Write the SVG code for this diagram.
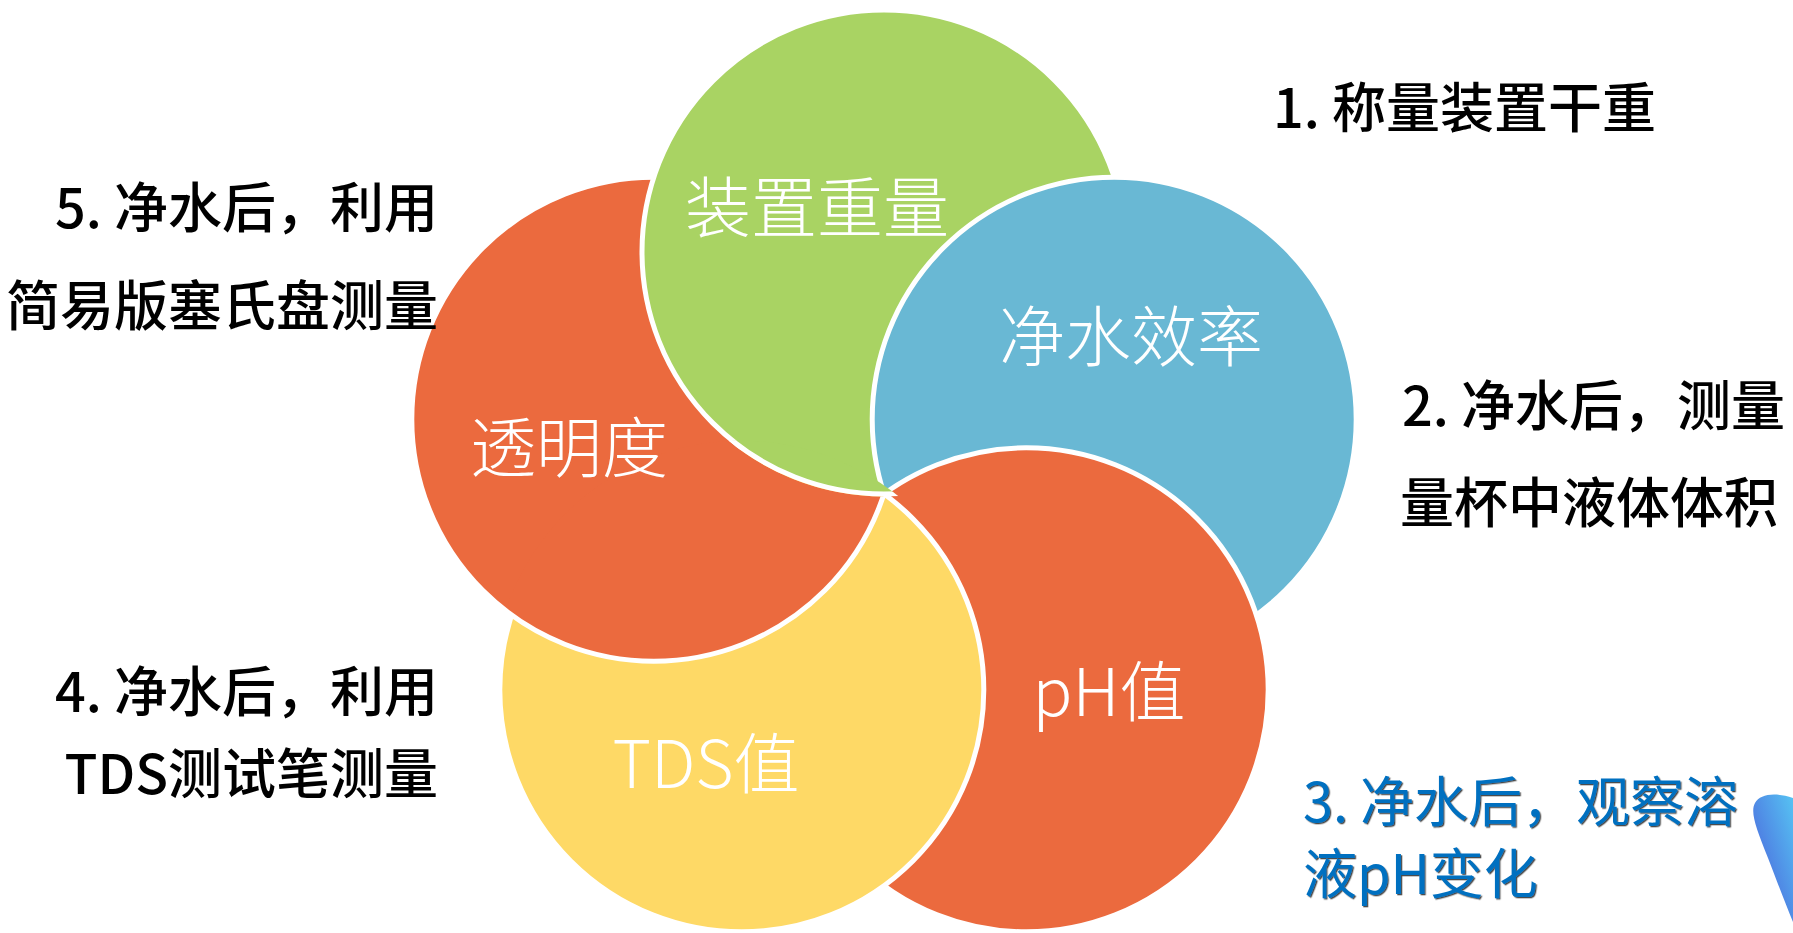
<svg xmlns="http://www.w3.org/2000/svg" xmlns:xlink="http://www.w3.org/1999/xlink" width="1793" height="933" viewBox="0 0 1793 933">
  <style>
    .circ { stroke: #ffffff; stroke-width: 5; }
    .lbl { font-family: "Noto Sans CJK SC", "Noto Sans", sans-serif; font-size: 66px; fill: #ffffff; font-weight: 300; text-anchor: middle; }
    .side { font-family: "Noto Sans CJK SC", "Noto Sans", sans-serif; font-size: 54px; fill: #000000; font-weight: 500; }
    .blue { fill: #0070C0; font-weight: 400; }
  </style>
  <defs>
    <circle id="cA" cx="653.8" cy="419.2" r="242" fill="#EB6A3E" class="circ"/>
    <circle id="cB" cx="884" cy="252" r="242" fill="#A9D363" class="circ"/>
    <clipPath id="clipE">
      <circle cx="741.8" cy="689.8" r="249"/>
    </clipPath>
    <mask id="maskA" maskUnits="userSpaceOnUse" x="0" y="0" width="1793" height="933">
      <circle cx="741.8" cy="689.8" r="249" fill="#ffffff"/>
      <circle cx="884" cy="252" r="244.5" fill="#000000"/>
    </mask>
    <filter id="shadow" x="-5%" y="-20%" width="110%" height="140%">
      <feDropShadow dx="1.3" dy="1.3" stdDeviation="0.5" flood-color="#000000" flood-opacity="0.7"/>
    </filter>
    <linearGradient id="deco" x1="1" y1="0" x2="0" y2="1">
      <stop offset="0" stop-color="#56C3F3"/>
      <stop offset="1" stop-color="#4A55D8"/>
    </linearGradient>
  </defs>

  <rect x="0" y="0" width="1793" height="933" fill="#ffffff"/>

  <g id="circles">
    <use id="circle-clarity" xlink:href="#cA" href="#cA"/>
    <use id="circle-weight" xlink:href="#cB" href="#cB"/>
    <circle id="circle-efficiency" cx="1114.2" cy="419.2" r="242" fill="#69B8D4" class="circ"/>
    <circle id="circle-ph" cx="1026.2" cy="689.8" r="242" fill="#EB6A3E" class="circ"/>
    <circle id="circle-tds" cx="741.8" cy="689.8" r="242" fill="#FED966" class="circ"/>
    <use xlink:href="#cA" href="#cA" mask="url(#maskA)"/>
    <use xlink:href="#cB" href="#cB" clip-path="url(#clipE)"/>
  </g>

  <g id="node-weight"><text class="lbl" x="817" y="232">装置重量</text></g>
  <g id="node-efficiency"><text class="lbl" x="1131" y="361">净水效率</text></g>
  <g id="node-clarity"><text class="lbl" x="569" y="472">透明度</text></g>
  <g id="node-ph"><text class="lbl" x="1109" y="716">pH值</text></g>
  <g id="node-tds"><text class="lbl" x="706" y="788">TDS值</text></g>

  <g id="note-1"><text class="side" x="1273" y="128">1. 称量装置干重</text></g>
  <g id="note-2">
    <text class="side" x="1402" y="426">2. 净水后，测量</text>
    <text class="side" x="1400" y="523">量杯中液体体积</text>
  </g>
  <g id="note-3" filter="url(#shadow)">
    <text class="side blue" x="1303" y="822">3. 净水后，观察溶</text>
    <text class="side blue" x="1303" y="894">液pH变化</text>
  </g>
  <g id="note-4">
    <text class="side" x="438" y="712" text-anchor="end">4. 净水后，利用</text>
    <text class="side" x="438" y="794" text-anchor="end">TDS测试笔测量</text>
  </g>
  <g id="note-5">
    <text class="side" x="438" y="228" text-anchor="end">5. 净水后，利用</text>
    <text class="side" x="438" y="326" text-anchor="end">简易版塞氏盘测量</text>
  </g>

  <g id="decoration">
    <path d="M1793,798 C1775,792 1760,794 1755,803 C1750,812 1756,828 1768,858 C1778,884 1786,905 1793,922 Z" fill="url(#deco)"/>
  </g>
</svg>
